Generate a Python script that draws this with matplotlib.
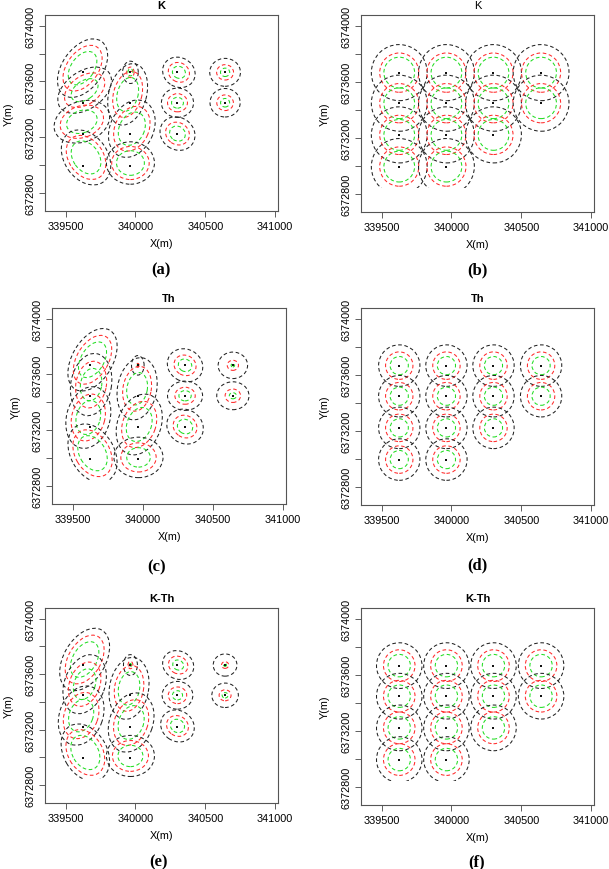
import matplotlib
matplotlib.use("Agg")
import matplotlib.pyplot as plt
from matplotlib.patches import Ellipse, Rectangle

plt.rcParams['font.family'] = ['Liberation Sans', 'DejaVu Sans']

# sample locations (13 points, 4 columns)
pts_x = [339626] * 4 + [339964] * 4 + [340301] * 3 + [340642] * 2
pts_y = [6373665, 6373447, 6373221, 6372995] * 2 + [6373665, 6373447, 6373221] + [6373665, 6373447]

# left panels: per point offset dx, dy, black semi-axes a, b, angle, red ratio, green ratio
shp_a = [
    (-5, 30, 235, 145, 55, 0.78, 0.57),
    (10, 90, 215, 135, 35, 0.75, 0.50),
    (-10, 90, 205, 145, 20, 0.78, 0.55),
    (20, 60, 215, 155, -55, 0.80, 0.60),
    (0, 0, 80, 56, 90, 0.47, 0.32),
    (-20, 60, 225, 135, 75, 0.75, 0.55),
    (10, 40, 215, 155, 65, 0.78, 0.58),
    (0, 20, 172, 152, 0, 0.78, 0.58),
    (10, 0, 120, 105, -30, 0.65, 0.40),
    (0, 0, 115, 105, 0, 0.62, 0.37),
    (0, 5, 130, 115, -35, 0.68, 0.45),
    (0, 0, 110, 100, 0, 0.55, 0.30),
    (0, 0, 108, 102, 0, 0.55, 0.30),
]
shp_c = [
    (15, 40, 245, 145, 60, 0.78, 0.57),
    (5, 80, 225, 145, 80, 0.75, 0.52),
    (-15, 70, 225, 155, 75, 0.76, 0.55),
    (15, 40, 225, 155, -60, 0.80, 0.60),
    (0, 0, 70, 45, 90, 0.20, 0.10),
    (-5, 50, 225, 140, 80, 0.72, 0.52),
    (10, 20, 225, 155, 70, 0.76, 0.56),
    (5, 10, 175, 145, 0, 0.72, 0.48),
    (0, 0, 130, 115, -30, 0.62, 0.38),
    (0, 0, 125, 105, 0, 0.58, 0.35),
    (0, 5, 135, 120, -35, 0.65, 0.42),
    (0, 0, 105, 95, 0, 0.38, 0.12),
    (0, 0, 115, 100, 0, 0.48, 0.22),
]
shp_e = [
    (10, 40, 245, 150, 60, 0.78, 0.57),
    (10, 80, 220, 145, 70, 0.75, 0.52),
    (-15, 80, 220, 155, 70, 0.78, 0.55),
    (15, 40, 220, 155, -60, 0.80, 0.60),
    (0, 0, 75, 50, 90, 0.35, 0.15),
    (-10, 50, 225, 140, 80, 0.74, 0.54),
    (5, 30, 220, 155, 70, 0.77, 0.57),
    (0, 15, 172, 148, 0, 0.75, 0.52),
    (5, 0, 115, 100, -30, 0.62, 0.35),
    (0, 0, 110, 100, 0, 0.60, 0.33),
    (0, 5, 125, 110, -35, 0.65, 0.42),
    (0, 0, 85, 80, 0, 0.30, 0.12),
    (0, 0, 95, 88, 0, 0.45, 0.22),
]

# right panels: circle radii (black, red, green)
rad_b = (200, 140, 110)
rad_d = (148, 98, 65)
rad_f = (163, 113, 80)

titles = ['K', 'K', 'Th', 'Th', 'K-Th', 'K-Th']
tags = ['(a)', '(b)', '(c)', '(d)', '(e)', '(f)']
title_bold = [True, False, True, True, True, True]

xticks = [339500, 340000, 340500, 341000]
yticks = [6372800, 6373000, 6373200, 6373400, 6373600, 6373800, 6374000]
ylabels = ['6372800', '', '6373200', '', '6373600', '', '6374000']

W, H = 609, 870
boxes = [(45, 278, 16, 212), (361, 594, 16, 213),
         (52, 286, 309, 505), (361, 594, 309, 506),
         (45, 278, 609, 804), (361, 594, 609, 806)]
tag_pos = [(161, 270), (477, 270), (157, 567), (477, 565), (158, 862), (477, 862)]

cols = ['#222222', '#ff2a2a', '#22dd22']
dash = (0, (3.5, 2.5))

fig = plt.figure(figsize=(W / 100, H / 100), dpi=100)

for i in range(6):
    l, r, t, b = boxes[i]
    ax = fig.add_axes([l / W, 1 - b / H, (r - l) / W, (b - t) / H])
    ax.set_xlim(339352, 341021)
    ax.set_ylim(6372671, 6374076)
    clip = Rectangle((339300, 6372845), 2000, 2000, transform=ax.transData)

    for k in range(len(pts_x)):
        x0, y0 = pts_x[k], pts_y[k]
        if i % 2 == 0:
            dx, dy, a, bb, ang, rr, gr = [shp_a, shp_c, shp_e][i // 2][k]
            for c, s in zip(cols, (1.0, rr, gr)):
                e = Ellipse((x0 + dx, y0 + dy), 2 * a * s, 2 * bb * s, angle=ang,
                            fill=False, ec=c, lw=0.75, ls=dash)
                ax.add_patch(e)
                e.set_clip_path(clip)
        else:
            radii = [rad_b, rad_d, rad_f][i // 2]
            for c, rad in zip(cols, radii):
                e = Ellipse((x0, y0), 2 * rad, 2 * rad, fill=False, ec=c,
                            lw=0.75, ls=dash)
                ax.add_patch(e)
                e.set_clip_path(clip)
    ax.plot(pts_x, pts_y, 's', color='#111111', ms=1.6, mew=0)

    ax.set_xticks(xticks)
    ax.set_xticklabels([str(v) for v in xticks], fontsize=7.8)
    ax.set_yticks(yticks)
    ax.set_yticklabels(ylabels, fontsize=7.8, rotation=90, va='center')
    ax.tick_params(length=4, width=0.6, color='#444444', pad=3)
    for sp in ax.spines.values():
        sp.set_color('#555555')
        sp.set_linewidth(0.8)
    ax.set_xlabel('X(m)', fontsize=7.8, labelpad=5)
    ax.set_ylabel('Y(m)', fontsize=7.8, labelpad=8)
    ax.set_title(titles[i], fontsize=8,
                 fontweight='bold' if title_bold[i] else 'normal', pad=5)
    tx, ty = tag_pos[i]
    fig.text(tx / W, 1 - ty / H, tags[i], ha='center', va='center',
             fontsize=12, fontweight='bold', family='Liberation Serif')

fig.savefig('out.png', dpi=100)
